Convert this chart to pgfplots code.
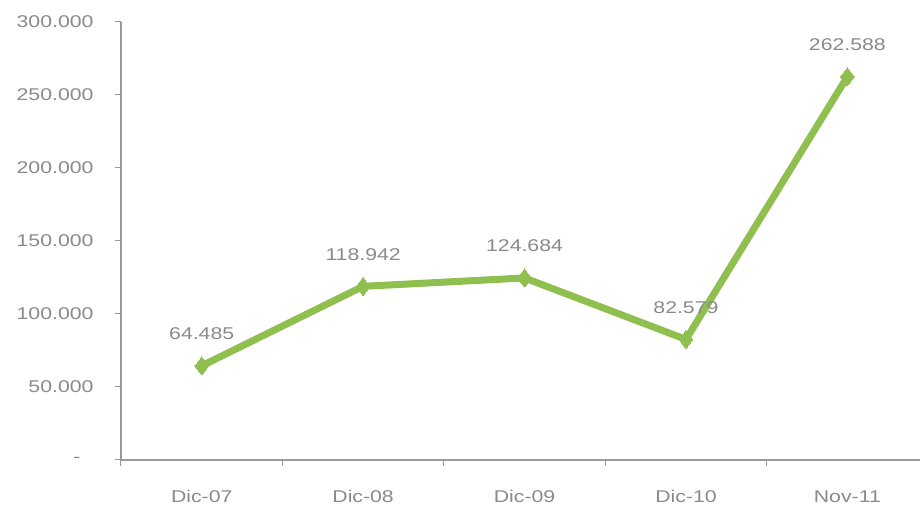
\documentclass[border=0pt]{standalone}
\usepackage{pgfplots}
\pgfplotsset{compat=1.18}
\usepackage{fontspec}
\setmainfont[FakeStretch=1.25]{Liberation Sans}
\definecolor{linegreen}{HTML}{8FBF4E}
\definecolor{txtgray}{HTML}{8A8A8A}
\definecolor{axgray}{HTML}{999999}
\begin{document}
\begin{tikzpicture}
\useasboundingbox (0,0) rectangle (924pt,506pt);
\begin{axis}[
  at={(121pt,46pt)}, anchor=south west,
  scale only axis, width=799pt, height=438pt,
  xmin=-0.5, xmax=4.45, ymin=0, ymax=300000,
  scaled y ticks=false,
  axis lines=left, axis line style={-, draw=axgray, line width=1.2pt},
  xtick={0,1,2,3,4},
  xticklabels={Dic-07,Dic-08,Dic-09,Dic-10,Nov-11},
  minor xtick={-0.5,0.5,1.5,2.5,3.5},
  ytick={0,50000,100000,150000,200000,250000,300000},
  yticklabels={{\raisebox{-4pt}{\makebox[20pt][l]{-}}},50.000,100.000,150.000,200.000,250.000,300.000},
  tick align=outside,
  x tick style={draw=none},
  minor x tick style={draw=axgray, line width=1pt},
  minor tick length=6pt,
  y tick style={draw=axgray, line width=1pt},
  major tick length=6pt,
  tick label style={font=\fontsize{17}{20}\selectfont, text=txtgray},
  xticklabel style={yshift=-21pt},
  yticklabel style={xshift=-18pt},
  clip=false,
  point meta=explicit symbolic,
  nodes near coords,
  nodes near coords style={anchor=base, yshift=26pt, font=\fontsize{17}{20}\selectfont, text=txtgray},
]
\addplot[color=linegreen, line width=7pt, mark=diamond*, mark size=9pt, mark options={fill=linegreen, draw=linegreen, line width=0pt}]
  coordinates {(0,64485)[64.485] (1,118942)[118.942] (2,124684)[124.684] (3,82579)[82.579] (4,262588)[262.588]};
\end{axis}
\end{tikzpicture}
\end{document}
